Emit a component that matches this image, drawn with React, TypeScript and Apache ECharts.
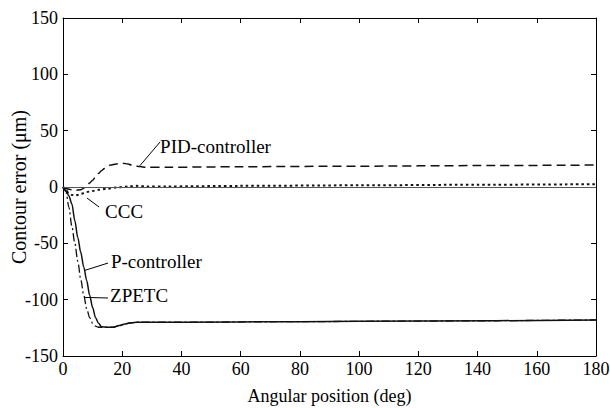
import React, { useEffect, useRef } from "react";
import * as echarts from "echarts";

// Angular position (deg) and contour error (µm) for each controller
const pidDeg = [0, 2, 4, 6, 7, 8, 9, 10, 11, 12, 13, 14, 15, 16, 18, 20, 22, 23, 24, 26, 28, 35, 60, 100, 140, 180];
const pidErr = [0, -2, -3, -2.5, -1, 1, 3.5, 6, 9, 12, 14.5, 16.5, 18, 19.5, 20.5, 21, 20.5, 19.5, 18.8, 18.2, 17.5, 17.5, 18, 18.5, 19, 19.5];

const cccDeg = [0, 1, 2, 3, 4, 5, 6, 7, 8, 10, 12, 15, 18, 22, 25, 28, 35, 60, 100, 140, 180];
const cccErr = [0, -3, -5.5, -7, -7.5, -7, -6, -5.5, -4.5, -3.5, -2.5, -1.5, -0.5, 0.5, 1, 0.5, 0.5, 1, 1.5, 2, 2.5];

const pDeg = [0, 1, 2, 3, 4, 5, 6, 7, 8, 9, 10, 11, 12, 13, 15, 17, 19, 21, 23, 25, 40, 80, 120, 180];
const pErr = [0, -3, -8, -15, -30, -45, -58, -71, -83, -96, -107, -116, -121, -124, -124.5, -124.5, -123, -121.5, -120.5, -120, -120, -119.5, -119, -118];

const zDeg = [0, 1, 2, 3, 4, 5, 6, 7, 8, 9, 10, 11, 12, 13, 15, 17, 19, 21, 23, 25, 40, 80, 120, 180];
const zErr = [0, -4, -18, -35, -50, -66, -82, -96, -108, -116, -121, -123.5, -124.5, -124.5, -124.5, -124.5, -123, -121.5, -120.5, -120, -120, -119.5, -119, -118];

const xTicks = { min: 0, max: 180, interval: 20 };
const yTicks = { min: -150, max: 150, interval: 50 };

const FONT = "serif";

const pairs = (xs: number[], ys: number[]) => xs.map((x, i) => [x, ys[i]]);

// Callout text plus leader line, in data coordinates
const callout = (text: string, at: number[], from: number[], to: number[]) => ({
  markPoint: {
    symbol: "circle",
    symbolSize: 0,
    silent: true,
    data: [{ coord: at }],
    label: {
      show: true,
      position: "right",
      distance: 0,
      formatter: text,
      color: "#000",
      fontFamily: FONT,
      fontSize: 19,
    },
  },
  markLine: {
    symbol: "none",
    silent: true,
    label: { show: false },
    lineStyle: { color: "#000", width: 1, type: "solid" },
    data: [[{ coord: from }, { coord: to }]],
  },
});

export default function App() {
  const ref = useRef<HTMLDivElement>(null);

  useEffect(() => {
    if (!ref.current) return;
    const chart = echarts.init(ref.current, null, { renderer: "svg" });

    const axisLine = { show: true, onZero: false, lineStyle: { color: "#000", width: 1 } };
    const tick = { show: true, inside: true, length: 5, lineStyle: { color: "#000" } };
    const label = { color: "#000", fontFamily: FONT, fontSize: 18 };

    chart.setOption({
      animation: false,
      backgroundColor: "#fff",
      textStyle: { fontFamily: FONT },
      grid: {
        left: 63,
        right: 14,
        top: 18,
        bottom: 52,
        containLabel: false,
        outerBoundsMode: "none",
      },
      xAxis: [
        {
          type: "value",
          ...xTicks,
          position: "bottom",
          name: "Angular position (deg)",
          nameLocation: "middle",
          nameGap: 31,
          nameMoveOverlap: false,
          nameTextStyle: { color: "#000", fontFamily: FONT, fontSize: 18 },
          axisLine,
          axisTick: tick,
          axisLabel: { ...label, margin: 4 },
          splitLine: { show: false },
        },
        {
          type: "value",
          ...xTicks,
          position: "top",
          axisLine,
          axisTick: tick,
          axisLabel: { show: false },
          splitLine: { show: false },
        },
      ],
      yAxis: [
        {
          type: "value",
          ...yTicks,
          position: "left",
          name: "Contour error (\u03bcm)",
          nameLocation: "middle",
          nameGap: 34,
          nameMoveOverlap: false,
          nameTextStyle: { color: "#000", fontFamily: FONT, fontSize: 20 },
          axisLine,
          axisTick: tick,
          axisLabel: { ...label, margin: 5 },
          splitLine: { show: false },
        },
        {
          type: "value",
          ...yTicks,
          position: "right",
          axisLine,
          axisTick: tick,
          axisLabel: { show: false },
          splitLine: { show: false },
        },
      ],
      series: [
        {
          name: "PID-controller",
          type: "line",
          data: pairs(pidDeg, pidErr),
          showSymbol: false,
          smooth: 0.3,
          smoothMonotone: "x",
          lineStyle: { color: "#111", width: 1.5, type: [9, 5] },
          ...callout("PID-controller", [32.8, 36], [26, 19], [32.8, 40]),
        },
        {
          name: "CCC",
          type: "line",
          data: pairs(cccDeg, cccErr),
          showSymbol: false,
          smooth: 0.3,
          smoothMonotone: "x",
          lineStyle: { color: "#111", width: 2, type: [2.5, 3] },
          z: 3,
          ...callout("CCC", [14.2, -21.5], [8.1, -9.8], [12.2, -17.8]),
        },
        {
          name: "reference",
          type: "line",
          data: [],
          markLine: {
            symbol: "none",
            silent: true,
            label: { show: false },
            lineStyle: { color: "#555", width: 1, type: "solid" },
            data: [{ yAxis: 0 }],
          },
        },
        {
          name: "P-controller",
          type: "line",
          data: pairs(pDeg, pErr),
          showSymbol: false,
          smooth: 0.3,
          smoothMonotone: "x",
          lineStyle: { color: "#111", width: 1.5, type: "solid" },
          ...callout("P-controller", [16.2, -65.7], [7.4, -74], [15.2, -67.5]),
        },
        {
          name: "ZPETC",
          type: "line",
          data: pairs(zDeg, zErr),
          showSymbol: false,
          smooth: 0.3,
          smoothMonotone: "x",
          lineStyle: { color: "#111", width: 1.3, type: [8, 3, 2, 3] },
          ...callout("ZPETC", [15.9, -96.7], [7.2, -98], [15.2, -98.5]),
        },
      ],
    });

    return () => chart.dispose();
  }, []);

  return (
    <div
      ref={ref}
      style={{ position: "fixed", left: 0, top: 0, width: 610, height: 408 }}
    />
  );
}
